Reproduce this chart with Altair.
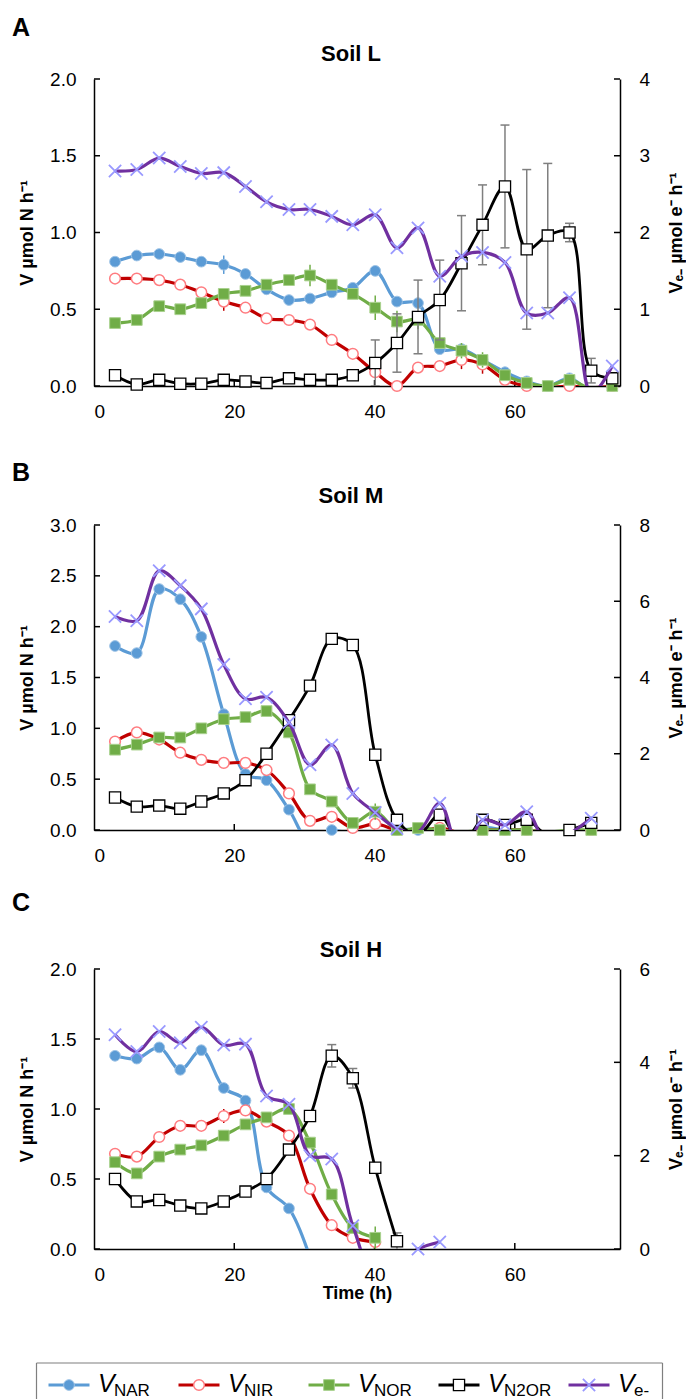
import altair as alt
import pandas as pd

# ---------------- data ----------------
T = [3.0, 6.1, 9.3, 12.3, 15.3, 18.5, 21.6, 24.6, 27.8, 30.8, 33.9, 36.9,
     40.1, 43.2, 46.2, 49.3, 52.4, 55.4, 58.6, 61.7, 64.7, 67.8, 70.9, 73.9]

# Soil L
L_NAR = [0.81, 0.85, 0.86, 0.84, 0.81, 0.79, 0.73, 0.63, 0.56, 0.57, 0.61, 0.64,
         0.75, 0.55, 0.54, 0.24, 0.24, 0.17, 0.09, 0.03, 0.00, 0.05, -0.03, 0.00]
L_NIR = [0.70, 0.70, 0.69, 0.66, 0.61, 0.55, 0.51, 0.44, 0.43, 0.40, 0.30, 0.21,
         0.09, 0.00, 0.12, 0.13, 0.17, 0.14, 0.04, 0.00, -0.01, 0.00, -0.01, 0.00]
L_NOR = [0.41, 0.43, 0.52, 0.50, 0.54, 0.60, 0.62, 0.66, 0.69, 0.72, 0.66, 0.60,
         0.51, 0.42, 0.43, 0.28, 0.23, 0.17, 0.07, 0.02, 0.00, 0.04, -0.02, 0.00]
L_N2OR = [0.07, 0.01, 0.04, 0.015, 0.015, 0.04, 0.03, 0.02, 0.05, 0.04, 0.04, 0.07,
          0.15, 0.28, 0.45, 0.56, 0.80, 1.05, 1.30, 0.89, 0.98, 1.00, 0.10, 0.05]
L_VE = [2.80, 2.82, 2.97, 2.86, 2.77, 2.78, 2.60, 2.40, 2.30, 2.30, 2.21, 2.10,
        2.23, 1.80, 2.06, 1.43, 1.69, 1.74, 1.61, 0.95, 0.95, 1.15, -0.10, 0.26]
L_NAR_E = [0, 0, 0.03, 0, 0, 0.06, 0, 0, 0, 0, 0, 0, 0, 0.03, 0, 0, 0, 0, 0, 0, 0, 0, 0, 0]
L_NIR_E = [0, 0, 0.03, 0, 0, 0.06, 0, 0.03, 0, 0, 0, 0, 0, 0, 0, 0, 0.06, 0.06, 0, 0, 0, 0, 0, 0]
L_NOR_E = [0, 0, 0, 0, 0, 0, 0, 0.03, 0, 0.07, 0, 0, 0.08, 0.07, 0.06, 0, 0.05, 0.05, 0, 0, 0, 0, 0, 0]
L_N2OR_E = [0, 0, 0, 0, 0, 0, 0, 0, 0, 0, 0, 0.03, 0.15, 0.19, 0.24, 0.26, 0.31, 0.26,
            0.40, 0.52, 0.47, 0.06, 0.08, 0]

# Soil M
M_NAR = [1.81, 1.74, 2.37, 2.27, 1.90, 1.14, 0.55, 0.49, 0.20, -0.12, 0.00, -0.05,
         -0.05, 0.00, 0.00, -0.05, -0.10, 0.02, 0.00, 0.00, -0.05, -0.05, 0.00, None]
M_NIR = [0.87, 0.96, 0.89, 0.76, 0.69, 0.66, 0.66, 0.59, 0.36, 0.09, 0.13, 0.02,
         0.06, 0.00, -0.02, 0.02, -0.03, 0.00, 0.00, 0.00, -0.02, -0.02, 0.00, None]
M_NOR = [0.79, 0.84, 0.91, 0.91, 1.00, 1.09, 1.11, 1.17, 0.96, 0.40, 0.28, 0.07,
         0.18, 0.00, 0.02, 0.00, -0.02, 0.00, 0.00, 0.00, -0.02, 0.00, 0.00, None]
M_N2OR = [0.32, 0.23, 0.24, 0.21, 0.28, 0.36, 0.49, 0.75, 1.08, 1.42, 1.88, 1.82,
          0.74, 0.10, -0.05, 0.15, -0.15, 0.10, 0.05, 0.10, -0.05, 0.00, 0.07, None]
M_VE = [5.60, 5.49, 6.80, 6.41, 5.80, 4.34, 3.44, 3.48, 2.82, 1.71, 2.23, 0.96,
        0.46, 0.04, -0.05, 0.70, -0.75, 0.26, 0.13, 0.48, -0.40, -0.10, 0.31, None]
M_NAR_E = [0] * 24
M_NIR_E = [0, 0, 0, 0, 0, 0.04, 0, 0, 0, 0, 0, 0, 0, 0, 0, 0.03, 0, 0, 0, 0, 0, 0, 0, 0]
M_NOR_E = [0, 0, 0, 0, 0, 0, 0, 0, 0, 0, 0, 0.04, 0.08, 0, 0, 0, 0, 0, 0, 0, 0, 0, 0, 0]
M_N2OR_E = [0, 0, 0, 0, 0, 0, 0, 0, 0, 0, 0.04, 0.04, 0, 0, 0, 0, 0, 0, 0, 0, 0, 0.03, 0, 0]

# Soil H
H_NAR = [1.38, 1.36, 1.44, 1.28, 1.42, 1.15, 1.06, 0.44, 0.29, -0.06]
H_NIR = [0.68, 0.66, 0.80, 0.88, 0.88, 0.95, 0.99, 0.91, 0.81, 0.43, 0.17, 0.08, 0.05]
H_NOR = [0.62, 0.54, 0.66, 0.71, 0.74, 0.81, 0.89, 0.94, 1.00, 0.76, 0.39, 0.15, 0.08]
H_N2OR = [0.50, 0.34, 0.35, 0.31, 0.29, 0.34, 0.41, 0.50, 0.71, 0.95, 1.38, 1.22, 0.58, 0.055]
H_VE = [4.59, 4.23, 4.66, 4.42, 4.75, 4.37, 4.39, 3.28, 3.10, 2.00, 1.93, 0.50,
        -0.60, -0.30, 0.00, 0.15]
H_NAR_E = [0, 0.03, 0, 0, 0, 0, 0.03, 0, 0, 0]
H_NIR_E = [0, 0, 0, 0, 0, 0.05, 0, 0.03, 0, 0, 0, 0, 0]
H_NOR_E = [0, 0, 0, 0, 0, 0, 0.03, 0, 0, 0.04, 0, 0, 0.08]
H_N2OR_E = [0, 0, 0, 0, 0, 0, 0, 0, 0, 0, 0.08, 0.07, 0.03, 0.06]

X_TICKS = [0, 20, 40, 60]
LEGEND_KEYS = ["NAR", "NIR", "NOR", "N2OR", "e-"]

# ---------------- styling ----------------
FONT = "Liberation Sans"
W = 526
X_MAX = 75
TICK_LEN = 6

SERIES = {
    "NAR": dict(line="#5B9BD5", shape="circle", fill="#5B9BD5", stroke="#9DC3E6", size=115, sw=1.0, err="#5B9BD5"),
    "NIR": dict(line="#C00000", shape="circle", fill="#FFFFFF", stroke="#FF7C80", size=115, sw=1.5, err="#C00000"),
    "NOR": dict(line="#70AD47", shape="square", fill="#70AD47", stroke="#A9D18E", size=115, sw=1.0, err="#70AD47"),
    "N2OR": dict(line="#000000", shape="square", fill="#FFFFFF", stroke="#000000", size=125, sw=1.3, err="#7F7F7F"),
}
VE_LINE = "#7030A0"
VE_MARK = "#9999FF"
XSHAPE = "M-1,-1L1,1M-1,1L1,-1"
VE_SIZE = 150


def make_df(vals, errs):
    rows = []
    for t, v, e in zip(T, vals, errs):
        if v is None:
            continue
        rows.append(dict(t=t, v=v, lo=v - e, hi=v + e, e=e))
    return pd.DataFrame(rows)


def x_axis(xtitle):
    return alt.Axis(values=X_TICKS, format="d", title=xtitle, ticks=False, grid=False,
                    domain=True, domainColor="black", domainWidth=1.5,
                    labelFont=FONT, labelFontSize=19, labelColor="black", labelPadding=16,
                    titleFont=FONT, titleFontSize=18, titleFontWeight="bold",
                    titleColor="black", titlePadding=0)


def panel(letter, name, height, left_max, right_max, right_step, data, ve, title_gap, letter_gap, xtitle):
    xs = alt.Scale(domain=[0, X_MAX], nice=False, zero=False)
    xa = x_axis(xtitle)
    left_ticks = [round(i * 0.5, 1) for i in range(int(round(left_max / 0.5)) + 1)]
    right_ticks = list(range(0, right_max + 1, right_step))
    ys_l = alt.Scale(domain=[0, left_max], nice=False, zero=False)
    ys_r = alt.Scale(domain=[0, right_max], nice=False, zero=False)
    ya_l = alt.Axis(values=left_ticks, format=".1f", title="V µmol N h⁻¹", orient="left",
                    ticks=False, grid=False, domain=True, domainColor="black", domainWidth=1.5,
                    labelFont=FONT, labelFontSize=19, labelColor="black", labelPadding=18,
                    titleFont=FONT, titleFontSize=18, titleFontWeight="bold", titleColor="black",
                    titlePadding=13)
    ya_r = alt.Axis(values=right_ticks, format="d", title="Vₑ₋ µmol e⁻ h⁻¹", orient="right",
                    ticks=False, grid=False, domain=True, domainColor="black", domainWidth=1.5,
                    labelFont=FONT, labelFontSize=19, labelColor="black", labelPadding=19,
                    titleFont=FONT, titleFontSize=18, titleFontWeight="bold", titleColor="black",
                    titlePadding=18, titleAngle=270, titleBaseline="top")

    left_layers = []
    # inside ticks (x axis and left axis)
    left_layers.append(
        alt.Chart(pd.DataFrame({"xt": X_TICKS[1:]})).mark_rule(color="black", strokeWidth=1.5).encode(
            x=alt.X("xt:Q", scale=xs, axis=xa), y=alt.value(height - TICK_LEN), y2=alt.value(height)))
    left_layers.append(
        alt.Chart(pd.DataFrame({"yt": left_ticks})).mark_rule(color="black", strokeWidth=1.5).encode(
            y=alt.Y("yt:Q", scale=ys_l, axis=ya_l), x=alt.value(0), x2=alt.value(TICK_LEN)))

    for key in ["NAR", "NIR", "NOR", "N2OR"]:
        st = SERIES[key]
        vals, errs = data[key]
        df = make_df(vals, errs)
        edf = df[df.e > 0]
        X = alt.X("t:Q", scale=xs, axis=xa)
        # error bars
        if len(edf):
            left_layers.append(
                alt.Chart(edf).mark_rule(color=st["err"], strokeWidth=1.5, clip=True).encode(
                    x=X, y=alt.Y("lo:Q", scale=ys_l, axis=ya_l), y2="hi:Q"))
            if key == "N2OR":
                for fld in ["lo", "hi"]:
                    left_layers.append(
                        alt.Chart(edf).mark_tick(orient="horizontal", size=9, thickness=1.5,
                                                 color=st["err"], clip=True, opacity=1).encode(
                            x=X, y=alt.Y(f"{fld}:Q", scale=ys_l, axis=ya_l)))
        left_layers.append(
            alt.Chart(df).mark_line(color=st["line"], strokeWidth=3.2 if key != "N2OR" else 2.8,
                                    interpolate="catmull-rom", clip=True).encode(
                x=X, y=alt.Y("v:Q", scale=ys_l, axis=ya_l)))
        left_layers.append(
            alt.Chart(df[df.v >= -0.005]).mark_point(shape=st["shape"], filled=True, fill=st["fill"],
                                                   stroke=st["stroke"], strokeWidth=st["sw"],
                                                   size=st["size"], opacity=1).encode(
                x=X, y=alt.Y("v:Q", scale=ys_l, axis=ya_l)))

    # panel letter and title
    left_layers.append(
        alt.Chart(pd.DataFrame({"s": [letter]})).mark_text(
            align="left", baseline="top", font=FONT, fontSize=25, fontWeight="bold", color="black").encode(
            x=alt.value(-82), y=alt.value(-letter_gap), text="s:N"))
    left_layers.append(
        alt.Chart(pd.DataFrame({"s": [name]})).mark_text(
            align="center", baseline="alphabetic", font=FONT, fontSize=22, fontWeight="bold", color="black").encode(
            x=alt.value(W / 2 - 6), y=alt.value(-title_gap), text="s:N"))

    vdf = make_df(ve, [0] * len(ve))
    right_layers = [
        alt.Chart(pd.DataFrame({"rt": right_ticks})).mark_rule(color="black", strokeWidth=1.5).encode(
            y=alt.Y("rt:Q", scale=ys_r, axis=ya_r), x=alt.value(W - TICK_LEN), x2=alt.value(W)),
        alt.Chart(vdf).mark_line(color=VE_LINE, strokeWidth=3.2, interpolate="catmull-rom", clip=True).encode(
            x=alt.X("t:Q", scale=xs, axis=xa), y=alt.Y("v:Q", scale=ys_r, axis=ya_r)),
        alt.Chart(vdf[vdf.v >= -0.005]).mark_point(shape=XSHAPE, filled=False, color=VE_MARK,
                                                 strokeWidth=1.8, size=VE_SIZE, opacity=1).encode(
            x=alt.X("t:Q", scale=xs, axis=xa), y=alt.Y("v:Q", scale=ys_r, axis=ya_r)),
    ]
    return alt.layer(alt.layer(*left_layers), alt.layer(*right_layers)).resolve_scale(
        y="independent").properties(width=W, height=height)


pA = panel("A", "Soil L", 307, 2.0, 4, 1,
           {"NAR": (L_NAR, L_NAR_E), "NIR": (L_NIR, L_NIR_E), "NOR": (L_NOR, L_NOR_E),
            "N2OR": (L_N2OR, L_N2OR_E)}, L_VE, 18, 63, "")
pB = panel("B", "Soil M", 305, 3.0, 8, 2,
           {"NAR": (M_NAR, M_NAR_E), "NIR": (M_NIR, M_NIR_E), "NOR": (M_NOR, M_NOR_E),
            "N2OR": (M_N2OR, M_N2OR_E)}, M_VE, 22, 64, "")
pC = panel("C", "Soil H", 280, 2.0, 6, 2,
           {"NAR": (H_NAR, H_NAR_E), "NIR": (H_NIR, H_NIR_E), "NOR": (H_NOR, H_NOR_E),
            "N2OR": (H_N2OR, H_N2OR_E)}, H_VE, 12, 78, "Time (h)")

# ---------------- legend ----------------
lx = alt.Scale(domain=[0, 4], range=[0, 520])
BOX_L, BOX_R, BOX_T, BOX_B = -57.5, 568.5, -25, 11
legend_layers = [
    alt.Chart(pd.DataFrame({"k": ["box"]})).mark_rule(color="#7F7F7F", strokeWidth=1.2).encode(
        x=alt.value(BOX_L), x2=alt.value(BOX_R), y=alt.value(BOX_T)),
    alt.Chart(pd.DataFrame({"k": ["box"]})).mark_rule(color="#7F7F7F", strokeWidth=1.2).encode(
        x=alt.value(BOX_L), y=alt.value(BOX_T), y2=alt.value(BOX_B)),
    alt.Chart(pd.DataFrame({"k": ["box"]})).mark_rule(color="#7F7F7F", strokeWidth=1.2).encode(
        x=alt.value(BOX_R), y=alt.value(BOX_T), y2=alt.value(BOX_B)),
]
ITEM_Y = -3
for i, key in enumerate(LEGEND_KEYS):
    ldf = pd.DataFrame({"i": [i], "v": ["V"], "sub": [key]})
    if key == "e-":
        lc, shape, fill, stroke, sw, size, filled = VE_LINE, XSHAPE, None, VE_MARK, 1.8, VE_SIZE, False
    else:
        st = SERIES[key]
        lc, shape, fill, stroke, sw, size, filled = st["line"], st["shape"], st["fill"], st["stroke"], st["sw"], st["size"], True
    base = alt.Chart(ldf)
    legend_layers.append(
        base.mark_rule(color=lc, strokeWidth=3, xOffset=-45.5, x2Offset=-4.5).encode(
            x=alt.X("i:Q", scale=lx, axis=None), x2="i:Q", y=alt.value(ITEM_Y)))
    if filled:
        pm = base.mark_point(shape=shape, filled=True, fill=fill, stroke=stroke, strokeWidth=sw,
                             size=size, opacity=1, xOffset=-25)
    else:
        pm = base.mark_point(shape=shape, filled=False, color=stroke, strokeWidth=sw,
                             size=size, opacity=1, xOffset=-25)
    legend_layers.append(pm.encode(x=alt.X("i:Q", scale=lx, axis=None), y=alt.value(ITEM_Y)))
    legend_layers.append(
        base.mark_text(align="left", baseline="middle", font=FONT, fontSize=25, fontStyle="italic",
                       color="black", xOffset=4, dy=-1).encode(
            x=alt.X("i:Q", scale=lx, axis=None), y=alt.value(ITEM_Y), text="v:N"))
    legend_layers.append(
        base.mark_text(align="left", baseline="middle", font=FONT, fontSize=17,
                       color="black", xOffset=20, dy=6).encode(
            x=alt.X("i:Q", scale=lx, axis=None), y=alt.value(ITEM_Y), text="sub:N"))

legend = alt.layer(*legend_layers).properties(width=W, height=1)

chart = alt.vconcat(pA, pB, pC, legend, spacing=139, bounds="flush").configure_view(
    stroke=None).properties(padding={"left": 12, "top": 16, "right": 0, "bottom": 0},
                            background="white")

chart.save("out.html", embed_options={"renderer": "svg", "actions": False})
